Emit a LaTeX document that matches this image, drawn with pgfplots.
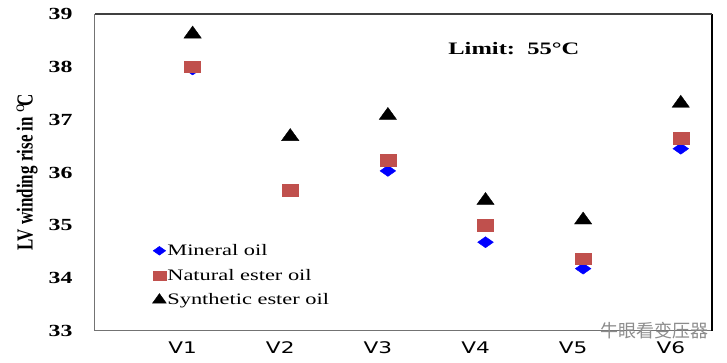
\documentclass[border=0pt]{standalone}
\usepackage{pgfplots}
\pgfplotsset{compat=1.18}
\usepackage{fontspec}
\setmainfont{Liberation Serif}[FakeStretch=1.4]
\newfontfamily\plainserif{Liberation Serif}
\newfontfamily\vfont{DejaVu Sans}[FakeStretch=1.35]
\newfontfamily\cjk{Noto Sans CJK SC}
\definecolor{natred}{RGB}{192,80,77}
\definecolor{minblue}{RGB}{0,0,255}
\begin{document}
\begin{tikzpicture}
\path[use as bounding box] (-95pt,-32pt) rectangle (632pt,331pt);
\begin{axis}[
  scale only axis,
  width=617pt, height=317pt,
  xmin=0, xmax=6.32,
  ymin=33, ymax=39,
  xtick={1,2,3,4,5,6},
  xticklabels={V1,V2,V3,V4,V5,V6},
  ytick={33,34,35,36,37,38,39},
  major tick length=0pt,
  axis line style={draw=black!55, line width=1pt},
  xticklabel style={font=\vfont\fontsize{16}{16}\selectfont, xshift=-10pt, yshift=-7pt},
  yticklabel style={font=\bfseries\fontsize{17}{17}\selectfont, xshift=-19pt},
  /pgf/number format/assume math mode=true,
  ylabel={\plainserif\bfseries LV winding rise in $^{\mathrm{o}}$C},
  ylabel style={font=\fontsize{17}{17}\selectfont, at={(axis description cs:-0.11,0.5)}, anchor=center, yscale=1.35},
  legend style={at={(0.088,0.283)}, anchor=north west, draw=none, fill=none,
    font=\fontsize{16}{16}\selectfont, row sep=10pt,
    nodes={inner sep=1pt}},
  legend image post style={scale=0.8},
  legend cell align=left,
  clip=false,
]
\addplot[only marks, mark=diamond*, color=minblue, mark size=5.5pt, mark options={xscale=1.9}]
  coordinates {(1,37.95) (2,35.65) (3,36.03) (4,34.68) (5,34.18) (6,36.45)};
\addlegendentry{Mineral oil}
\addplot[only marks, mark=square*, color=natred, mark size=5.85pt, mark options={xscale=1.37}]
  coordinates {(1,38.00) (2,35.67) (3,36.23) (4,35.00) (5,34.37) (6,36.65)};
\addlegendentry{Natural ester oil}
\addplot[only marks, mark=triangle*, color=black, mark size=8pt, mark options={xscale=1.25}]
  coordinates {(1,38.62) (2,36.68) (3,37.08) (4,35.47) (5,35.10) (6,37.31)};
\addlegendentry{Synthetic ester oil}
\draw[black, line width=1.3pt] (rel axis cs:1,0) -- (rel axis cs:1,1);
\draw[black!75, line width=1.3pt] (rel axis cs:0,1) -- (rel axis cs:1,1);
\node[font=\bfseries\fontsize{17.5}{17.5}\selectfont, anchor=west] at (rel axis cs:0.567,0.89) {Limit:\ \ 55°C};
\node[font=\cjk\fontsize{18}{18}\selectfont, text=black!45, anchor=east] at (rel axis cs:1,0) {牛眼看变压器};
\end{axis}
\end{tikzpicture}
\end{document}
